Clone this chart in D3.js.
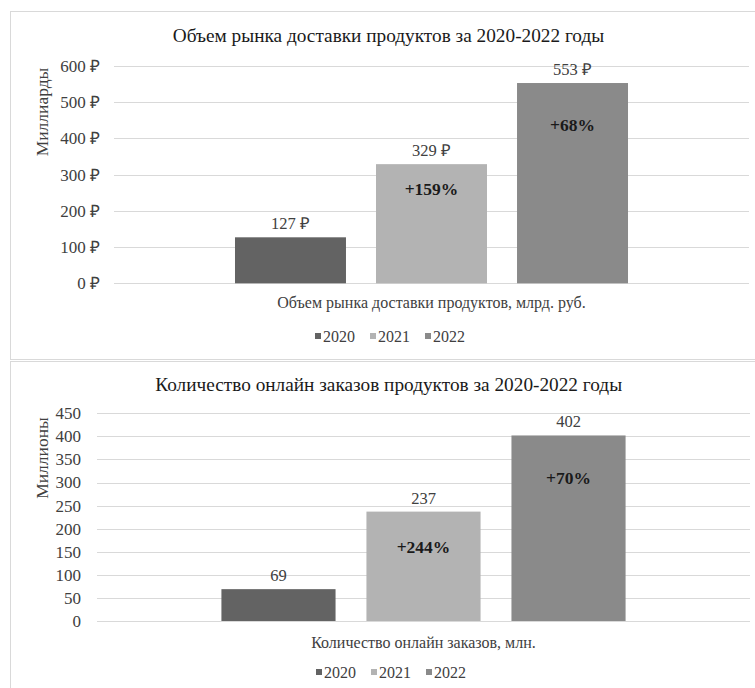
<!DOCTYPE html>
<html lang="ru">
<head>
<meta charset="utf-8">
<script src="https://cdn.jsdelivr.net/npm/d3@7/dist/d3.min.js"></script>
<style>
  html, body { margin: 0; padding: 0; background: #fff; }
  svg text { font-family: "Liberation Serif", "Times New Roman", serif !important; }
</style>
</head>
<body>
<svg id="chart" width="755" height="688"></svg>
<script>
// ---- data ----
const years = ["2020", "2021", "2022"];
const yearColors = ["#636363", "#b3b3b3", "#8a8a8a"];

const marketTitle = "Объем рынка доставки продуктов за 2020-2022 годы";
const marketCategory = "Объем рынка доставки продуктов, млрд. руб.";
const marketAxisTitle = "Миллиарды";
const marketValues = [127, 329, 553];
const marketGrowth = ["", "+159%", "+68%"];
const marketTicks = [0, 100, 200, 300, 400, 500, 600];

const ordersTitle = "Количество онлайн заказов продуктов за 2020-2022 годы";
const ordersCategory = "Количество онлайн заказов, млн.";
const ordersAxisTitle = "Миллионы";
const ordersValues = [69, 237, 402];
const ordersGrowth = ["", "+244%", "+70%"];
const ordersTicks = [0, 50, 100, 150, 200, 250, 300, 350, 400, 450];

const svg = d3.select("#chart");

// ---- one bar panel ----
function drawPanel(cfg) {
  const g = svg.append("g");

  // panel frame
  g.append("rect")
    .attr("x", 10.5).attr("y", cfg.boxTop + 0.5)
    .attr("width", 760).attr("height", cfg.boxHeight)
    .attr("fill", "#fff").attr("stroke", "#d9d9d9").attr("stroke-width", 1);

  const y = d3.scaleLinear()
    .domain([0, d3.max(cfg.ticks)])
    .range([cfg.plotBottom, cfg.plotTop]);

  const x = d3.scaleBand()
    .domain(years)
    .range([cfg.plotLeft, cfg.plotRight])
    .paddingInner(0.213)
    .paddingOuter(0.858);

  // gridlines
  g.append("g")
    .attr("transform", `translate(${cfg.plotLeft},0)`)
    .call(d3.axisLeft(y).tickValues(cfg.ticks)
      .tickSize(-(cfg.plotRight - cfg.plotLeft)).tickFormat(""))
    .call(a => a.select(".domain").remove())
    .call(a => a.selectAll("line").attr("stroke", "#d9d9d9").attr("shape-rendering", "crispEdges"));

  // tick labels
  g.append("g")
    .attr("transform", `translate(${cfg.plotLeft},0)`)
    .call(d3.axisLeft(y).tickValues(cfg.ticks).tickSize(0)
      .tickPadding(cfg.tickPad).tickFormat(cfg.tickFormat))
    .call(a => a.select(".domain").remove())
    .call(a => a.selectAll("text")
      .attr("font-size", 17).attr("fill", "#404040"));

  // bars
  g.selectAll("rect.bar")
    .data(cfg.values)
    .join("rect")
    .attr("class", "bar")
    .attr("x", (d, i) => x(years[i]))
    .attr("width", x.bandwidth())
    .attr("y", d => y(d))
    .attr("height", d => y(0) - y(d))
    .attr("fill", (d, i) => yearColors[i]);

  // value labels above bars
  g.selectAll("text.val")
    .data(cfg.values)
    .join("text")
    .attr("class", "val")
    .attr("x", (d, i) => x(years[i]) + x.bandwidth() / 2)
    .attr("y", d => y(d) - 8)
    .attr("text-anchor", "middle")
    .attr("font-size", 16.5).attr("fill", "#404040")
    .text(d => cfg.valueFormat(d));

  // growth labels inside bars
  g.selectAll("text.growth")
    .data(cfg.growth.map((t, i) => ({ t, i })).filter(d => d.t))
    .join("text")
    .attr("class", "growth")
    .attr("x", d => x(years[d.i]) + x.bandwidth() / 2)
    .attr("y", d => y(cfg.values[d.i] * cfg.growthAt[d.i]))
    .attr("dy", "0.35em")
    .attr("text-anchor", "middle")
    .attr("font-size", 17.5).attr("font-weight", "bold").attr("fill", "#1a1a1a")
    .text(d => d.t);

  // chart title
  g.append("text")
    .attr("x", cfg.titleX).attr("y", cfg.titleY)
    .attr("dy", "0.35em").attr("text-anchor", "middle")
    .attr("font-size", 19.3).attr("fill", "#1a1a1a")
    .text(cfg.title);

  // vertical axis title
  g.append("text")
    .attr("transform", `translate(${cfg.axisTitleX},${cfg.axisTitleY}) rotate(-90)`)
    .attr("dy", "0.35em").attr("text-anchor", "middle")
    .attr("font-size", 17.5).attr("fill", "#404040")
    .text(cfg.axisTitle);

  // category label under the axis
  g.append("text")
    .attr("x", (cfg.plotLeft + cfg.plotRight) / 2).attr("y", cfg.categoryY)
    .attr("dy", "0.35em").attr("text-anchor", "middle")
    .attr("font-size", 16).attr("fill", "#404040")
    .text(cfg.category);

  // legend
  const step = 55;
  const legend = g.append("g")
    .attr("transform", `translate(${cfg.legendX - 76},${cfg.legendY})`);
  const items = legend.selectAll("g")
    .data(years)
    .join("g")
    .attr("transform", (d, i) => `translate(${i * step},0)`);
  items.append("rect")
    .attr("x", 0).attr("y", -3).attr("width", 6).attr("height", 6)
    .attr("fill", (d, i) => yearColors[i]);
  items.append("text")
    .attr("x", 8).attr("dy", "0.35em")
    .attr("font-size", 16).attr("fill", "#404040")
    .text(d => d);
}

drawPanel({
  boxTop: 11, boxHeight: 348,
  plotLeft: 114, plotRight: 749, plotTop: 66, plotBottom: 283.3,
  ticks: marketTicks, values: marketValues, growth: marketGrowth,
  growthAt: [0, 0.79, 0.79],
  tickPad: 14,
  tickFormat: d => `${d} ₽`, valueFormat: d => `${d} ₽`,
  title: marketTitle, titleX: 388.5, titleY: 35,
  axisTitle: marketAxisTitle, axisTitleX: 42, axisTitleY: 112,
  category: marketCategory, categoryY: 302,
  legendX: 391, legendY: 336
});

drawPanel({
  boxTop: 361, boxHeight: 340,
  plotLeft: 97, plotRight: 750, plotTop: 413.3, plotBottom: 621,
  ticks: ordersTicks, values: ordersValues, growth: ordersGrowth,
  growthAt: [0, 0.675, 0.77],
  tickPad: 16,
  tickFormat: d => `${d}`, valueFormat: d => `${d}`,
  title: ordersTitle, titleX: 388.7, titleY: 384,
  axisTitle: ordersAxisTitle, axisTitleX: 42, axisTitleY: 458,
  category: ordersCategory, categoryY: 642,
  legendX: 392, legendY: 672
});
</script>
</body>
</html>
